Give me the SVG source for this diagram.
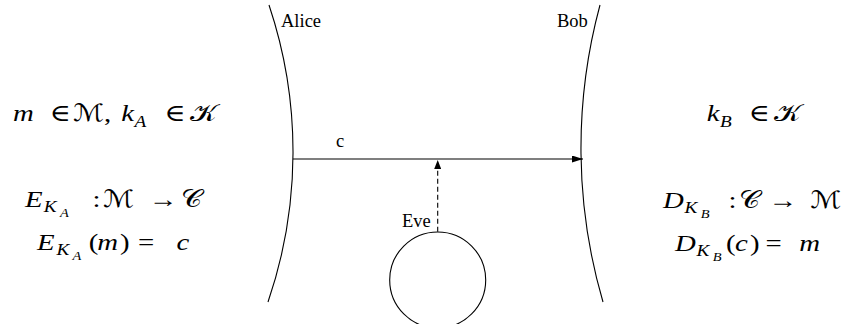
<svg xmlns="http://www.w3.org/2000/svg" width="847" height="324" viewBox="0 0 847 324">
<defs>
<style>
.line{fill:none;stroke:#000;stroke-width:1.1}
.dash{fill:none;stroke:#000;stroke-width:1.1;stroke-dasharray:5,3}
.lbl{font-family:"Liberation Serif","Times New Roman",serif;font-size:18.5px;fill:#000}
.math{font-family:"Liberation Serif","DejaVu Serif","DejaVu Sans",serif;font-size:24px;fill:#000}
.i{font-style:italic}
.s{font-size:16px;font-style:italic}
.ss{font-size:12px;font-style:italic}
</style>
<marker id="ah" markerWidth="11" markerHeight="7" refX="11" refY="3.5" orient="auto" markerUnits="userSpaceOnUse">
<path d="M0,0 L11,3.5 L0,7 Z" fill="#000"/>
</marker>
<marker id="ah2" markerWidth="9" markerHeight="7" refX="9" refY="3.5" orient="auto" markerUnits="userSpaceOnUse">
<path d="M0,0 L9,3.5 L0,7 Z" fill="#000"/>
</marker>
</defs>
<rect width="847" height="324" fill="#fff"/>
<g id="alice">
<path class="line" d="M269,5 A462,462 0 0 1 268,302"/>
<text class="lbl" x="281" y="27">Alice</text>
</g>
<g id="bob">
<path class="line" d="M600,5 A548,548 0 0 0 603,302"/>
<text class="lbl" x="557" y="27">Bob</text>
</g>
<g id="eve">
<circle class="line" cx="437.7" cy="280" r="48"/>
<text class="lbl" x="402" y="227">Eve</text>
</g>
<g id="connectors">
<line class="line" x1="293" y1="159" x2="583" y2="159" marker-end="url(#ah)"/>
<text class="lbl" x="336" y="147">c</text>
<line class="dash" x1="437.7" y1="231.7" x2="437.7" y2="160" marker-end="url(#ah2)"/>
</g>
<g id="left-math" transform="scale(1.2,1)">
<text class="math" y="121"><tspan class="i" x="10.8">m</tspan><tspan x="41.5">∈</tspan><tspan x="61">ℳ,</tspan><tspan class="i" x="101">k</tspan><tspan class="s" x="112" y="127">A</tspan><tspan x="137" y="121">∈</tspan><tspan x="158">𝒦</tspan></text>
<text class="math" y="207"><tspan class="i" x="20.8">E</tspan><tspan class="s" x="36.5" y="212">K</tspan><tspan class="ss" x="50" y="217">A</tspan><tspan x="77" y="207">:</tspan><tspan x="86">ℳ</tspan><tspan x="124">→</tspan><tspan x="151">𝒞</tspan></text>
<text class="math" y="250"><tspan class="i" x="30.8">E</tspan><tspan class="s" x="47" y="255">K</tspan><tspan class="ss" x="60.5" y="260">A</tspan><tspan x="74" y="250">(</tspan><tspan class="i" x="81">m</tspan><tspan x="100">)</tspan><tspan x="115">=</tspan><tspan class="i" x="147">c</tspan></text>
</g>
<g id="right-math" transform="scale(1.2,1)">
<text class="math" y="121"><tspan class="i" x="589">k</tspan><tspan class="s" x="600" y="127">B</tspan><tspan x="624" y="121">∈</tspan><tspan x="645">𝒦</tspan></text>
<text class="math" y="208"><tspan class="i" x="552.5">D</tspan><tspan class="s" x="570.5" y="213">K</tspan><tspan class="ss" x="584" y="218">B</tspan><tspan x="607" y="208">:</tspan><tspan x="616">𝒞</tspan><tspan x="640.5">→</tspan><tspan x="675.5">ℳ</tspan></text>
<text class="math" y="251"><tspan class="i" x="562.5">D</tspan><tspan class="s" x="580.5" y="256">K</tspan><tspan class="ss" x="594" y="261">B</tspan><tspan x="605" y="251">(</tspan><tspan class="i" x="612.5">c</tspan><tspan x="625">)</tspan><tspan x="638">=</tspan><tspan class="i" x="666">m</tspan></text>
</g>
</svg>
